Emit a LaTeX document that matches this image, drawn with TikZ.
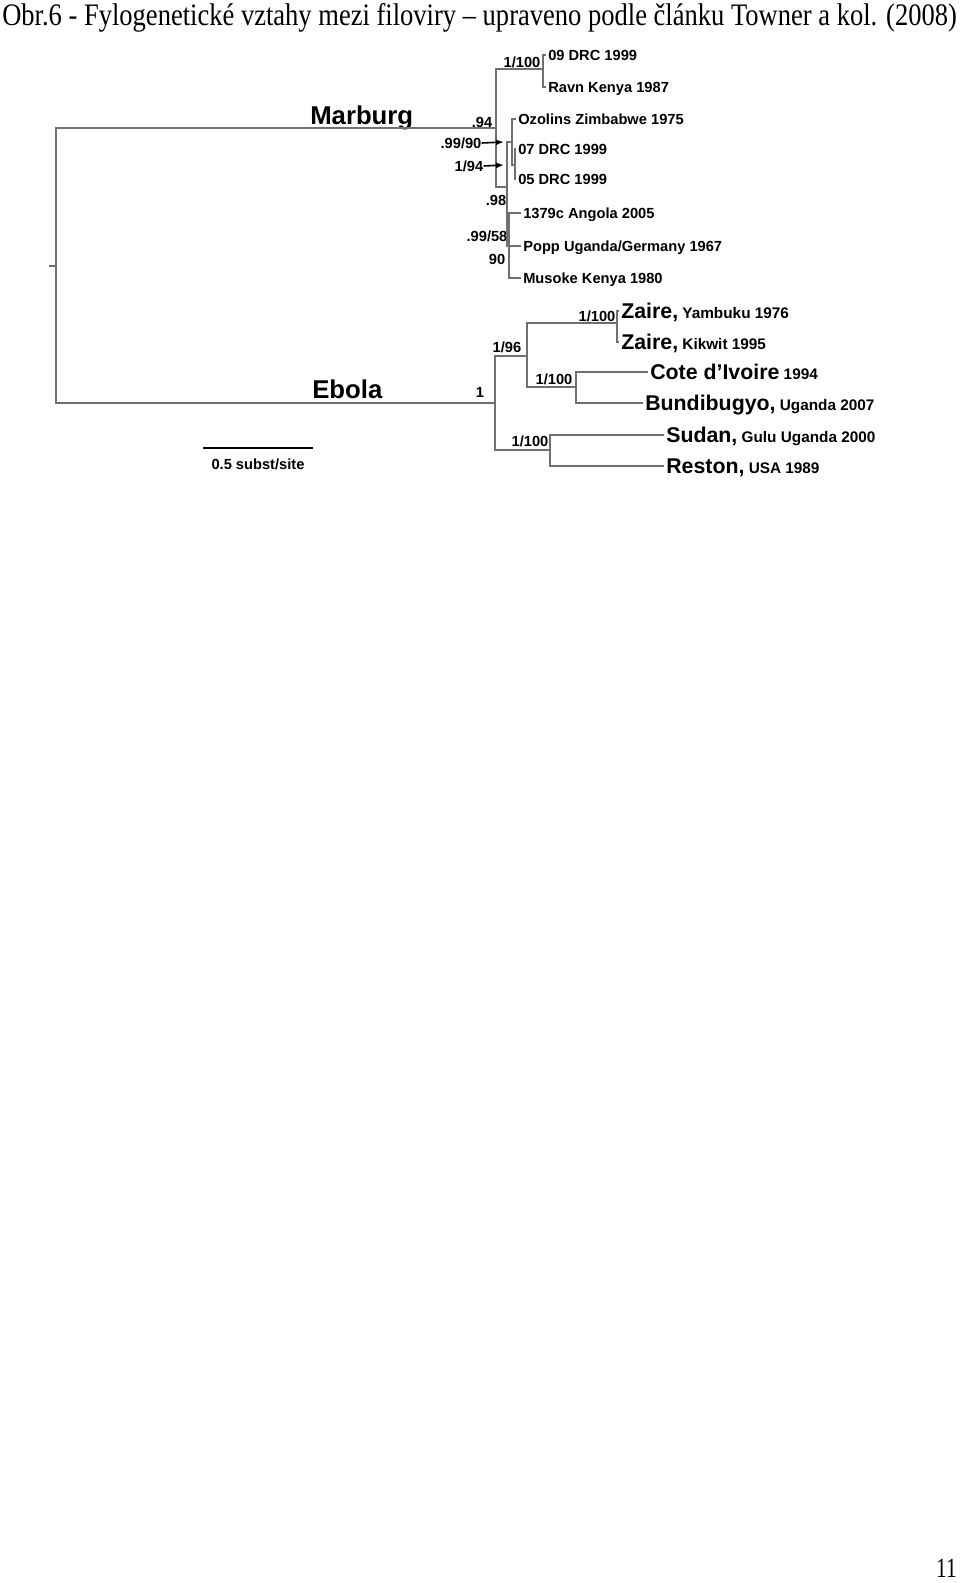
\documentclass[tikz,border=0pt]{standalone}
\usepackage{fontspec}
\setmainfont{Liberation Serif}
\setsansfont{Liberation Sans}
\usetikzlibrary{arrows.meta}
\definecolor{treegray}{HTML}{707070}
\newcommand{\bigtaxon}[1]{{\fontsize{16pt}{18pt}\selectfont #1}}

\begin{document}
\begin{tikzpicture}[
  x=0.75pt, y=-0.75pt,
  branch/.style={draw=treegray, line width=1.2pt},
  leaf/.style={anchor=west, inner sep=1.5pt, font=\sffamily\bfseries\fontsize{11pt}{13pt}\selectfont,
               text height=7.9pt, text depth=0pt},
  bigleaf/.style={anchor=west, inner sep=1.5pt, font=\sffamily\bfseries\fontsize{11.5pt}{13pt}\selectfont,
                  text height=11.5pt, text depth=0pt},
  supp/.style={inner sep=0pt, font=\sffamily\bfseries\fontsize{11pt}{13pt}\selectfont},
  grouplab/.style={anchor=base west, inner sep=0pt, font=\sffamily\bfseries\fontsize{19.3pt}{22pt}\selectfont},
  supparrow/.style={draw=black, line width=1.2pt, -{Latex[length=6pt,width=4.5pt]}},
  >=Latex
]
\useasboundingbox (0,0) rectangle (960,1583);

% Caption and page number
\node[anchor=base west, inner sep=0pt, font=\fontsize{19.9pt}{24pt}\selectfont] (caption) at (2,26)
  {\scalebox{1}[1.18]{Obr.6 - Fylogenetické vztahy mezi filoviry – upraveno podle článku Towner a kol. (2008)}};
\node[anchor=base east, inner sep=0pt, font=\fontsize{16pt}{18pt}\selectfont] (pagenum) at (957,1577)
  {\scalebox{1}[1.3]{11}};

% Internal nodes
\coordinate (rootstub) at (49,266);
\coordinate (root) at (56,266);
\coordinate (mar)  at (496,128);
\coordinate (ebo)  at (495,403);
\coordinate (mA)   at (543,69);
\coordinate (mB)   at (507,187);
\coordinate (mC)   at (512,142);
\coordinate (mD)   at (515,165);
\coordinate (mE)   at (509,246);
\coordinate (eA)   at (527,356);
\coordinate (eZ)   at (617,323);
\coordinate (eC)   at (576,387);
\coordinate (eS)   at (550,450);

% Group names
\node[grouplab] (marburg) at (310,125) {Marburg};
\node[grouplab] (ebola)   at (312,398) {Ebola};

% Marburg leaves
\node[leaf] (drc09)   at (546,55)  {09 DRC 1999};
\node[leaf] (ravn)    at (546,87)  {Ravn Kenya 1987};
\node[leaf] (ozolins) at (516,119) {Ozolins Zimbabwe 1975};
\node[leaf] (drc07)   at (516,149) {07 DRC 1999};
\node[leaf] (drc05)   at (516,179) {05 DRC 1999};
\node[leaf] (angola)  at (521,213) {1379c Angola 2005};
\node[leaf] (popp)    at (521,246) {Popp Uganda/Germany 1967};
\node[leaf] (musoke)  at (521,278) {Musoke Kenya 1980};

% Ebola leaves
\node[bigleaf] (zaireY) at (619,311) {\bigtaxon{Zaire,} Yambuku 1976};
\node[bigleaf] (zaireK) at (619,342) {\bigtaxon{Zaire,} Kikwit 1995};
\node[bigleaf] (cote)   at (648,372) {\bigtaxon{Cote d’Ivoire} 1994};
\node[bigleaf] (bundi)  at (643,403) {\bigtaxon{Bundibugyo,} Uganda 2007};
\node[bigleaf] (sudan)  at (664,435) {\bigtaxon{Sudan,} Gulu Uganda 2000};
\node[bigleaf] (reston) at (664,466) {\bigtaxon{Reston,} USA 1989};

% Support values
\node[supp] (s100a) at (522,62)  {1/100};
\node[supp] (s94)   at (482,122) {.94};
\node[supp] (s9990) at (461,143) {.99/90};
\node[supp] (s194)  at (469,166) {1/94};
\node[supp] (s98)   at (496,200) {.98};
\node[supp] (s9958) at (487,236) {.99/58};
\node[supp] (s90)   at (497,259) {90};
\node[supp] (sone)  at (480,392) {1};
\node[supp] (s196)  at (507,347) {1/96};
\node[supp] (szai)  at (597,316) {1/100};
\node[supp] (scote) at (554,379) {1/100};
\node[supp] (ssud)  at (530,441) {1/100};

% Root
\draw[branch] (rootstub) -- (root);
\draw[branch] (root) |- (mar);
\draw[branch] (root) |- (ebo);

% Marburg branches
\draw[branch] (mar) |- (mA);
\draw[branch] (mar) |- (mB);
\draw[branch] (mA) |- (drc09.west);
\draw[branch] (mA) |- (ravn.west);
\draw[branch] (mB) |- (mC);
\draw[branch] (mB) |- (mE);
\draw[branch] (mC) |- (ozolins.west);
\draw[branch] (mC) |- (mD);
\draw[branch] (mD) |- (drc07.west);
\draw[branch] (mD) |- (drc05.west);
\draw[branch] (mE) |- (angola.west);
\draw[branch] (mE) -- (popp.west);
\draw[branch] (mE) |- (musoke.west);

% Arrows to small nodes
\coordinate (t9990) at (504,142);
\coordinate (t194)  at (504,165);
\draw[supparrow] (s9990.east) -- (t9990);
\draw[supparrow] (s194.east) -- (t194);

% Ebola branches
\draw[branch] (ebo) |- (eA);
\draw[branch] (ebo) |- (eS);
\draw[branch] (eA) |- (eZ);
\draw[branch] (eA) |- (eC);
\draw[branch] (eZ) |- (zaireY.west);
\draw[branch] (eZ) |- (zaireK.west);
\draw[branch] (eC) |- (cote.west);
\draw[branch] (eC) |- (bundi.west);
\draw[branch] (eS) |- (sudan.west);
\draw[branch] (eS) |- (reston.west);

% Scale bar
\coordinate (barL) at (203,448);
\coordinate (barR) at (313,448);
\draw[line width=0.9pt] (barL) -- (barR);
\node[supp] (barlab) at (258,464) {0.5 subst/site};

\end{tikzpicture}
\end{document}
